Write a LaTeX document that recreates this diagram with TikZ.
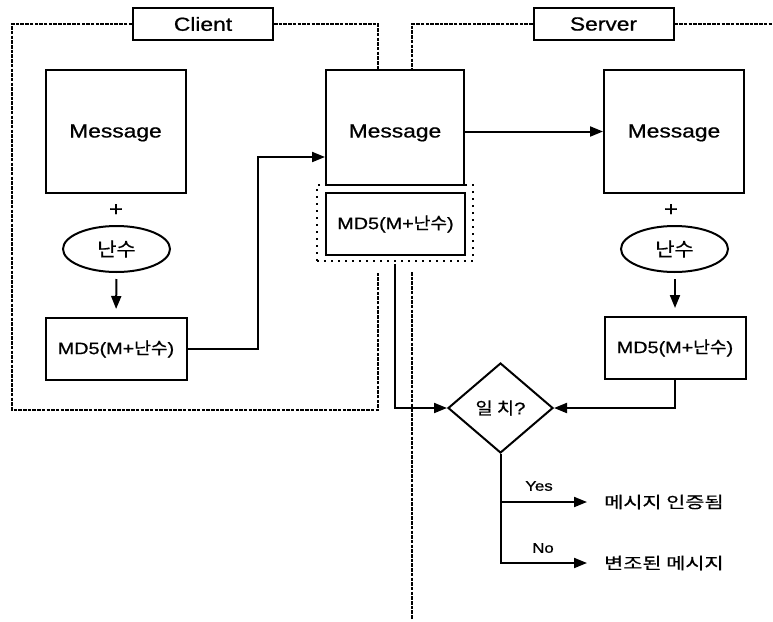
\documentclass[tikz,border=0pt]{standalone}
\usepackage{fontspec}
\setmainfont{Liberation Sans}[FakeStretch=1.2,FakeBold=0.8]
\newfontfamily\kr{Noto Sans CJK KR}[FakeStretch=1.1,FakeBold=0.6]
\newfontfamily\latq{Liberation Sans}[FakeStretch=1.2,FakeBold=0.8]
\usetikzlibrary{shapes.geometric,arrows.meta}
\begin{document}
\begin{tikzpicture}[x=1pt,y=-1pt,
  box/.style={draw,line width=2pt,rectangle,inner sep=0pt},
  lbl/.style={box,minimum width=140pt,minimum height=32pt,font=\fontsize{19}{22}\selectfont},
  msgbox/.style={box,minimum width=140pt,minimum height=123pt,text height=16pt,text depth=4pt,font=\fontsize{19}{22}\selectfont},
  hashbox/.style={box,minimum width=141pt,minimum height=62pt,font=\fontsize{16.5}{19}\selectfont},
  rnd/.style={draw,line width=2pt,ellipse,inner sep=0pt,minimum width=107pt,minimum height=46pt,font=\kr\fontsize{19}{22}\selectfont},
  plus/.style={inner sep=0pt,font=\fontsize{20}{22}\selectfont},
  bound/.style={line width=1.4pt,dash pattern=on 3.5pt off 1.2pt},
  frame/.style={draw,line width=2pt,dash pattern=on 2pt off 5pt,inner sep=0pt},
  arr/.style={line width=2pt,-{Triangle[length=13pt,width=10pt]}},
  small/.style={inner sep=0pt,font=\fontsize{14}{16}\selectfont},
  result/.style={inner sep=0pt,anchor=west,font=\kr\fontsize{16}{18}\selectfont\addfontfeature{FakeStretch=1.3}}]
\useasboundingbox (0,0) rectangle (773,621);

% group labels
\node[lbl] (client) at (203,24) {Client};
\node[lbl] (server) at (603.5,24) {Server};

% client side
\node[msgbox] (msgL) at (115.5,131.5) {Message};
\node[plus] (plusL) at (116,210) {+};
\node[rnd] (rndL) at (116.5,249) {난수};
\node[hashbox] (md5L) at (116,349) {MD5(M+{\kr 난수})};

% transmitted message
\node[msgbox,minimum width=138pt,minimum height=115pt,text height=24pt] (msgC) at (395,127.5) {Message};
\node[frame,minimum width=156pt,minimum height=76pt] (md5F) at (395,223) {};
\node[hashbox,minimum width=139pt] (md5C) at (395.5,224) {MD5(M+{\kr 난수})};

% server side
\node[msgbox] (msgR) at (674,131.5) {Message};
\node[plus] (plusR) at (671,210) {+};
\node[rnd] (rndR) at (674.5,249) {난수};
\node[hashbox] (md5R) at (675,348) {MD5(M+{\kr 난수})};

% comparison
\node[draw,line width=2pt,diamond,inner sep=0pt,minimum width=105pt,minimum height=90pt,
      font=\kr\fontsize{17}{19}\selectfont] (cmp) at (500.5,408) {일 치{\latq ?}};
\node[result] (ok) at (604,502) {메시지 인증됨};
\node[result] (bad) at (604,563) {변조된 메시지};
\node[small] (yes) at (539,486) {Yes};
\node[small] (no) at (543,548) {No};

% boundary corners
\coordinate (cTL) at (12,24);
\coordinate (cBL) at (12,410);
\coordinate (cBR) at (378,272);
\coordinate (cTR) at (378,70);
\coordinate (sTL) at (412,70);
\coordinate (sTR) at (773,24);
\coordinate (sLo) at (412,272);
\coordinate (sEnd) at (412,619);

\draw[bound] (client.west) -- (cTL) -- (cBL) -| (cBR);
\draw[bound] (client.east) -| (cTR);
\draw[bound] (server.west) -| (sTL);
\draw[bound] (server.east) -- (sTR);
\draw[bound] (sLo) -- (sEnd);

% connectors
\coordinate (bendL) at (258,157);
\draw[arr] (md5L.east) -| (bendL) -- (bendL -| msgC.west);
\draw[arr] (msgC.east |- msgR.west) -- (msgR.west);
\draw[arr,shorten <=6pt,shorten >=8pt] (rndL.south) -- (md5L.north);
\draw[arr,shorten <=6pt,shorten >=8pt] (rndR.south -| md5R.north) -- (md5R.north);
\draw[arr,shorten <=2pt] (md5F.south) |- (cmp.west);
\draw[arr] (md5R.south) |- (cmp.east);
\draw[arr] (cmp.south) |- ([xshift=-17pt]bad.west);
\draw[arr] (cmp.south |- ok.west) -- ([xshift=-17pt]ok.west);
\end{tikzpicture}
\end{document}
